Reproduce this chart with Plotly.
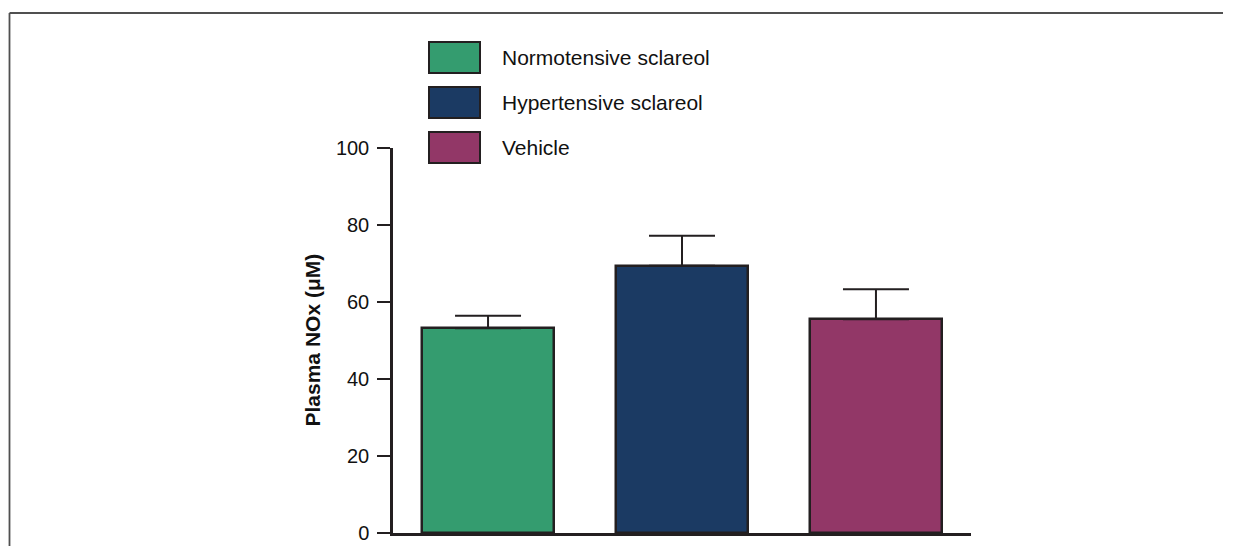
import plotly.graph_objects as go

# ---- data ----
categories = ["Normotensive sclareol", "Hypertensive sclareol", "Vehicle"]
values = [53.2, 69.4, 55.5]
errors_up = [3.2, 7.8, 7.8]
colors = ["#349c6f", "#1b3a63", "#923767"]
y_ticks = [0, 20, 40, 60, 80, 100]
y_title = "Plasma NOx (μM)"

FONT = "Liberation Sans, Arial, sans-serif"
DARK = "#231f20"

# page has an 8px body margin; keep the figure small enough to avoid scrollbars
OFF = 8
W, H = 1251 - 2 * OFF - 20, 558 - 2 * OFF - 4
PX0, PX1 = 393, 971     # plot area in window pixels (x)
PY0, PY1 = 148, 533     # plot area in window pixels (y: top, bottom)
L = PX0 - OFF
T = PY0 - OFF
R = W - (PX1 - OFF)
B = H - (PY1 - OFF)
pw, ph = W - L - R, H - T - B

fig = go.Figure()
fig.add_trace(go.Bar(
    x=list(range(len(categories))),
    y=values,
    width=0.68,
    marker=dict(color=colors, line=dict(color=DARK, width=2.5)),
    error_y=dict(type="data", symmetric=False, array=errors_up,
                 arrayminus=[0] * len(values),
                 color=DARK, thickness=2, width=33),
    showlegend=False,
    hoverinfo="skip",
))

def px_x(p):  # window pixel -> paper
    return (p - PX0) / pw

def px_y(p):
    return (PY1 - p) / ph

shapes = []
annotations = []
# custom legend (boxes + labels), rows stacked from top
box_x0, box_x1 = 429, 480
row_top0, row_h, row_gap = 42, 31, 45
for i, (cat, col) in enumerate(zip(categories, colors)):
    top = row_top0 + i * row_gap
    shapes.append(dict(type="rect", xref="paper", yref="paper",
                       x0=px_x(box_x0), x1=px_x(box_x1),
                       y0=px_y(top + row_h), y1=px_y(top),
                       fillcolor=col, line=dict(color=DARK, width=2)))
    annotations.append(dict(xref="paper", yref="paper", x=px_x(500),
                            y=px_y(top + row_h / 2), text=cat,
                            showarrow=False, xanchor="left", yanchor="middle",
                            font=dict(family=FONT, size=21, color="#111111")))

# y-axis title
annotations.append(dict(xref="paper", yref="paper", x=px_x(312), y=0.5,
                        text="<b>" + y_title + "</b>", textangle=-90,
                        showarrow=False, xanchor="center", yanchor="middle",
                        font=dict(family=FONT, size=21, color="#111111")))

# outer frame (left and top edges)
shapes.append(dict(type="line", xref="paper", yref="paper",
                   x0=px_x(9.5), x1=px_x(9.5), y0=px_y(13), y1=px_y(570),
                   line=dict(color="#505050", width=1.8)))
shapes.append(dict(type="line", xref="paper", yref="paper",
                   x0=px_x(9.5), x1=px_x(1260), y0=px_y(13), y1=px_y(13),
                   line=dict(color="#505050", width=1.8)))

fig.update_layout(
    width=W, height=H,
    margin=dict(l=L, r=R, t=T, b=B, pad=0, autoexpand=False),
    paper_bgcolor="white", plot_bgcolor="white",
    shapes=shapes, annotations=annotations,
    bargap=0,
    xaxis=dict(range=[-0.49, 2.49], showticklabels=False, ticks="",
               automargin=False,
               showgrid=False, zeroline=False, showline=True,
               linecolor=DARK, linewidth=2.5),
    yaxis=dict(range=[0, 100], tickvals=y_ticks, ticks="outside",
               automargin=False,
               ticklen=13, tickwidth=2, tickcolor=DARK,
               ticklabelstandoff=4,
               showgrid=False, zeroline=False, showline=True,
               linecolor=DARK, linewidth=2.5,
               tickfont=dict(family=FONT, size=20, color="#111111")),
)

fig.write_html("out.html")
